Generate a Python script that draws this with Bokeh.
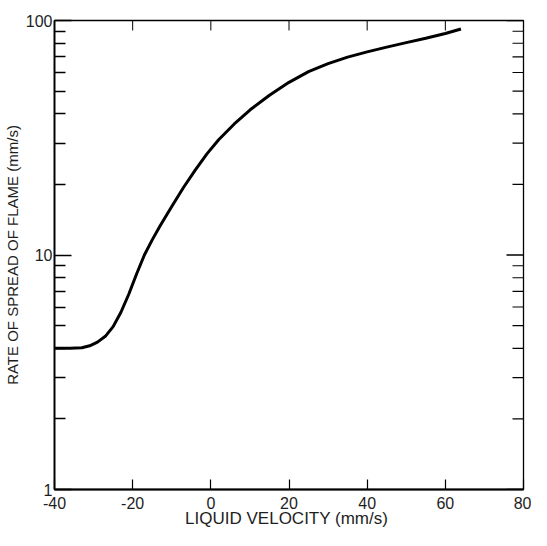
import math
from bokeh.plotting import figure
from bokeh.models import Range1d, FixedTicker
from bokeh.embed import file_html
from bokeh.resources import INLINE

# data
liquid_velocity = [-40, -36, -33, -31, -29, -27, -25, -23, -21, -19, -17, -15, -13, -10,
                   -7, -4, -1, 2, 6, 10, 15, 20, 25, 30, 35, 40, 45, 50, 55, 60, 64]
spread_rate = [4.0, 4.0, 4.02, 4.1, 4.25, 4.5, 4.95, 5.7, 6.8, 8.3, 10.0, 11.6, 13.3, 16.1,
               19.4, 23.0, 27.0, 31.0, 36.2, 41.5, 48.0, 54.5, 60.5, 65.5, 69.8, 73.5, 77.0,
               80.5, 84.0, 88.0, 92.0]

x_ticks = [-40, -20, 0, 20, 40, 60, 80]
x_tick_labels = ["-40", "-20", "0", "20", "40", "60", "80"]
y_ticks = [1, 10, 100]
y_tick_labels = ["1", "10", "100"]
y_minor = [2, 3, 4, 5, 6, 7, 8, 9, 20, 30, 40, 50, 60, 70, 80, 90]

X_MIN, X_MAX = -40, 80
Y_MIN, Y_MAX = 1, 100
FONT = "Liberation Sans"
TXT = "#1e1e1e"

p = figure(width=531, height=530, output_backend="svg", toolbar_location=None,
           y_axis_type="log", x_range=Range1d(X_MIN, X_MAX), y_range=Range1d(Y_MIN, Y_MAX),
           min_border_left=10, min_border_right=8, min_border_top=20, min_border_bottom=10)
p.xgrid.visible = False
p.ygrid.visible = False
p.outline_line_color = "black"
p.outline_line_width = 1.3
p.background_fill_color = "white"
p.border_fill_color = "white"

p.line(liquid_velocity, spread_rate, line_color="black", line_width=3)

# bottom axis
xa = p.xaxis[0]
xa.ticker = FixedTicker(ticks=x_ticks)
xa.major_label_overrides = {t: l for t, l in zip(x_ticks, x_tick_labels)}
xa.major_tick_in = 10
xa.major_tick_out = 0
xa.minor_tick_line_color = None
xa.axis_line_width = 1.8
xa.major_tick_line_width = 1.2
xa.major_label_text_font = FONT
xa.major_label_text_font_size = "16px"
xa.major_label_text_color = TXT
xa.major_label_standoff = 7
xa.axis_label = "LIQUID  VELOCITY (mm/s)"
xa.axis_label_text_font = FONT
xa.axis_label_text_font_size = "17px"
xa.axis_label_text_font_style = "normal"
xa.axis_label_text_color = TXT
xa.axis_label_standoff = -3

# left axis
ya = p.yaxis[0]
ya.ticker = FixedTicker(ticks=y_ticks, minor_ticks=y_minor)
ya.major_label_overrides = {t: l for t, l in zip(y_ticks, y_tick_labels)}
ya.major_tick_in = 17
ya.major_tick_out = 0
ya.minor_tick_in = 11
ya.minor_tick_out = 0
ya.axis_line_width = 1.8
ya.major_tick_line_width = 1.5
ya.minor_tick_line_width = 1.3
ya.major_label_text_font = FONT
ya.major_label_text_font_size = "16px"
ya.major_label_text_color = TXT
ya.major_label_standoff = 2
ya.axis_label = "RATE OF SPREAD OF FLAME (mm/s)"
ya.axis_label_text_font = FONT
ya.axis_label_text_font_size = "15px"
ya.axis_label_text_font_style = "normal"
ya.axis_label_text_color = TXT
ya.axis_label_standoff = 2

# inward ticks on the right and top edges (rays of fixed screen length from the frame edge)
p.ray(x=[X_MAX] * len(y_minor), y=y_minor, length=11, length_units="screen",
      angle=math.pi, line_color="black", line_width=1.2)
p.ray(x=[X_MAX] * len(y_ticks), y=y_ticks, length=17, length_units="screen",
      angle=math.pi, line_color="black", line_width=1.3)
p.ray(x=x_ticks, y=[Y_MAX] * len(x_ticks), length=10, length_units="screen",
      angle=-math.pi / 2, line_color="black", line_width=1.0)

open("out.html", "w").write(file_html(p, INLINE))
